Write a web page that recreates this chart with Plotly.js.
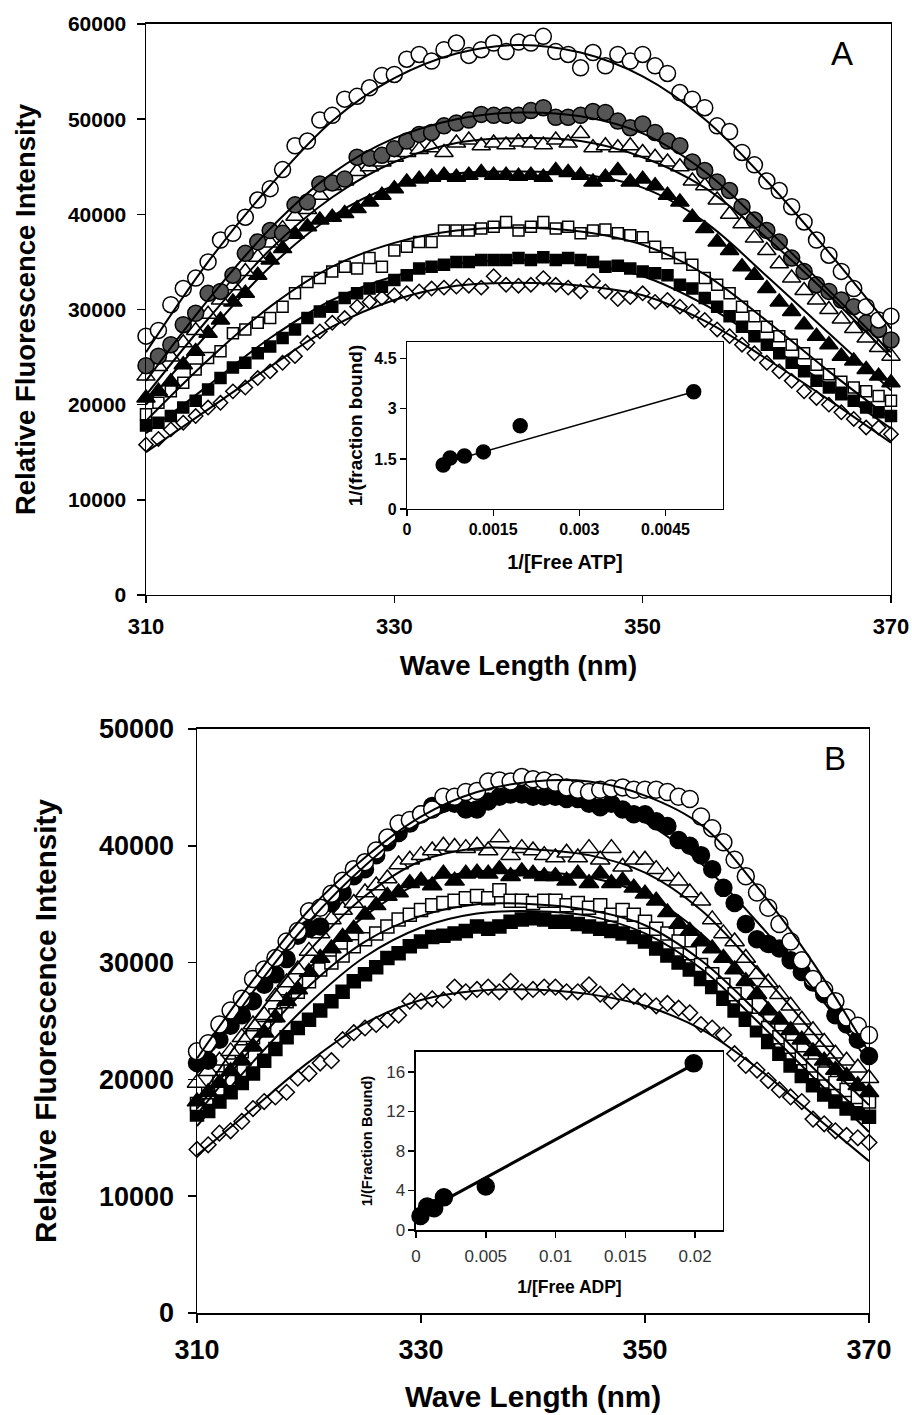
<!DOCTYPE html>
<html>
<head>
<meta charset="utf-8">
<script src="https://cdn.plot.ly/plotly-3.0.1.min.js"></script>
<style>html,body{margin:0;padding:0;background:#fff;}#chart{width:912px;height:1415px;}</style>
</head>
<body>
<div id="chart"></div>
<script>
// ---------- DATA ----------
const wl = [310,311,312,313,314,315,316,317,318,319,320,321,322,323,324,325,326,327,328,329,330,331,332,333,334,335,336,337,338,339,340,341,342,343,344,345,346,347,348,349,350,351,352,353,354,355,356,357,358,359,360,361,362,363,364,365,366,367,368,369,370];
const fitWl = [310,315,320,325,330,335,340,345,350,355,360,365,370];

// Panel A (ATP)
const aOpenCircle = [27200,27800,30500,32200,33300,35000,37300,38000,39700,41500,42700,44700,47200,47700,49900,50400,52100,52400,53300,54600,54700,56300,56800,56100,57300,58000,56700,57300,58000,57100,58100,58000,58700,57100,56800,55400,57000,55600,56800,56100,56800,55600,54800,52800,52100,51200,49300,48700,46500,45200,43500,42500,40800,39200,37300,35700,34000,32200,30300,28900,29300];
const aGrayCircle = [24100,25100,26300,28400,29600,31700,31900,33600,35900,37100,38300,38000,41000,41300,43200,43300,43700,46000,45900,46200,46900,47700,48400,48600,49300,49600,49900,50500,50400,50400,50400,50900,51200,50200,50200,50400,50800,50700,49800,49100,49500,48600,47700,47200,45500,44600,43400,42500,40800,39400,38300,37100,35400,34000,32600,31900,31000,30300,28600,27900,26800];
const aOpenTri = [23000,24000,25000,26500,27800,29500,31000,32500,34000,35500,37000,38500,39800,40500,42000,43000,43500,44500,45000,45500,46000,46500,46800,47000,46500,47500,47800,47200,47500,47300,47600,47500,47300,47800,47500,48500,47000,47200,47000,47200,46500,46000,45500,45000,43500,43000,41500,40000,39000,37500,36200,34800,33300,32000,31000,30000,29000,28000,27000,26000,25100];
const aFillTri = [20700,21400,22400,24200,25600,27500,28900,30800,31700,33600,35200,36400,37900,38700,39400,39700,40100,40600,41300,42000,42700,43400,43700,43900,44100,43900,44100,44400,44100,44100,44000,44100,43900,44600,44400,44100,43400,43900,44600,43400,43700,43000,42000,41300,39700,38500,37100,36200,34500,33600,32200,30800,29800,28400,27200,26300,25100,24600,23700,23000,22300];
const aOpenSq = [19000,20200,21400,22300,23700,24900,25600,27500,27900,28600,29100,30300,31700,32900,33300,34000,34500,34300,35400,34500,36200,36600,37100,37100,38300,38300,38300,38500,38700,39200,38300,38700,39200,38500,38700,38000,38300,38400,38000,37800,37600,36600,35900,35400,34700,33300,32600,31700,30300,29300,28200,27200,26300,25400,24200,23200,22400,21800,21400,20900,20400];
const aFillSq = [17800,18100,18800,19700,20400,21600,22800,23900,24400,25400,26100,27000,27900,29100,29800,30300,31200,31700,32200,32400,33100,33600,34300,34500,34700,35000,35000,35200,35200,35200,35400,35200,35500,35200,35400,35200,35000,34500,34600,34300,34000,33800,33600,32600,32200,31200,30300,29300,28200,27200,26300,25400,24400,23500,22500,21800,21100,20400,19700,19200,18800];
const aOpenDia = [15800,16400,17400,18100,18800,19700,20200,21400,21800,22800,23500,24400,25100,26500,27700,28600,29100,30300,30800,31200,31500,31700,31900,32200,32300,32400,32500,32300,33500,32600,32500,32600,33300,32600,32300,31900,33000,31900,31100,31300,31700,30800,31000,30300,29800,28900,27900,27200,26300,25400,24400,23500,22500,21400,20700,20000,19200,18500,17600,17600,16900];

const aFitOpenCircle = [25500,35000,43000,49800,54300,56900,57800,57000,54500,50000,43500,36000,28000];
const aFitGrayCircle = [22500,31000,38500,44300,48000,50000,50700,50300,48500,44500,38500,32000,25500];
const aFitOpenTri    = [21000,29000,36300,41800,45500,47500,48000,47700,46000,42800,37500,31500,25000];
const aFitFillTri    = [20000,27500,34500,39800,43000,44300,44500,44200,42800,39200,33500,27500,21500];
const aFitOpenSq     = [18300,24700,30300,34500,37000,38300,38600,38200,36800,33700,28800,23500,18500];
const aFitFillSq     = [17000,22000,27000,31000,33500,34800,35200,34800,33500,30500,26300,22000,17500];
const aFitOpenDia    = [15000,19500,24000,28200,31000,32500,32800,32500,31500,28800,24800,20500,16000];

// Panel B (ADP)
const bOpenCircle = [22400,23100,24700,25900,26900,28600,29400,30400,31800,32700,34400,34700,35900,37000,38000,38600,39600,40700,41900,42200,42700,43100,44200,44200,44600,44700,45500,45600,45500,45900,45700,45600,45400,45000,44800,44600,44800,44900,45000,44800,44800,44800,44600,44200,44000,42500,41500,40300,38800,37400,36000,34700,33300,31800,30200,28600,27700,26700,25300,24600,23800];
const bFillCircle = [21400,21600,23400,24600,25500,26700,28100,29000,30300,32300,32900,33100,35100,36000,37400,38000,39200,40300,41100,41900,42700,43400,43600,43600,43100,43100,43800,44200,44400,44400,44200,44200,44200,44000,44000,43600,43300,43600,43100,42700,42700,42100,41700,40500,40000,39200,38000,36400,35100,33300,32000,31600,31200,30200,29200,28300,27300,25500,24700,23400,22000];
const bOpenTri = [19700,20700,21600,22400,23600,24700,25500,27100,28300,29400,31000,32500,33700,34500,35100,36000,36600,37200,38400,38800,39200,39600,40000,39900,39800,40000,39600,40700,39200,39800,39600,39200,39000,39400,39000,39800,38800,39800,38200,38800,38800,38000,37400,37000,36000,35300,33700,32500,31800,30400,29000,28300,27300,26300,25100,24200,23200,22200,21600,21000,20100];
const bFillTri = [18100,18900,19700,20700,21600,22800,24000,25300,26700,27700,29200,30400,31200,32200,32900,34100,34900,35700,36000,36800,37000,36600,37600,37000,37600,37700,37600,38000,37400,37800,37600,37400,37400,37000,37600,36800,37600,36800,37000,36400,35900,35300,34300,33300,32700,31800,31200,30400,29400,28400,27300,25900,25100,24200,23400,22400,21600,20800,20300,19500,18900];
const bOpenSq = [17900,18900,20100,21200,22400,23600,24400,25500,26700,27500,28400,29400,30000,30600,31400,32000,32500,33100,33700,34100,34500,34900,35100,35300,35500,35700,35500,36200,35300,35300,35100,35300,35300,34900,35100,34700,34900,34100,34500,34100,33500,32900,32500,31800,30800,29800,29000,28100,27300,26300,25100,24400,23600,22800,21800,21200,20500,19700,19100,18500,18100];
const bFillSq = [17000,17300,18100,18900,19700,20500,21600,22600,23600,24400,25100,25900,26700,27500,28400,29000,29600,30400,30800,31400,31800,32200,32300,32500,32700,33100,32900,33100,33500,33700,33800,33700,33500,33500,33300,33100,32900,32700,32500,32200,31800,31200,30600,30000,29400,28600,27900,26900,25900,25100,24200,23200,22200,21200,20300,19500,18700,18100,17500,17100,16800];
const bOpenDia = [14000,14400,15400,15600,16400,17500,18100,18500,18900,20100,20500,21400,21600,23400,24000,24400,24700,25100,25500,26700,26700,26900,26800,27900,27500,27700,27900,27500,28400,27500,27700,27900,27900,27500,27500,28100,27300,26700,27500,27100,26700,26300,26500,26100,25700,24700,24400,23800,22200,21200,20800,19900,19100,18500,18100,16600,16200,15600,15200,15000,14600];

const bFitOpenCircle = [21800,28500,34500,39000,42500,44600,45500,45500,44300,41800,36500,30000,22300];
const bFitFillCircle = [20500,27500,33500,38300,42000,43800,44400,43800,42000,38500,33500,27800,21500];
const bFitOpenTri    = [18000,25000,31000,35700,38700,39800,39700,39200,37700,34500,29500,24000,18500];
const bFitFillTri    = [17500,23500,29500,34000,36800,37800,37800,37300,35800,32500,27500,22500,17800];
const bFitOpenSq     = [17000,22800,28000,31800,34000,35000,35000,34500,33200,30200,25800,21000,16500];
const bFitFillSq     = [16000,21500,26500,30500,33000,34200,34400,34000,32500,29500,25000,20200,15500];
const bFitOpenDia    = [13500,17500,21500,24800,26800,27600,27700,27300,26300,24300,21000,17000,13000];

// Inset A: double reciprocal, ATP
const atpInvFree  = [0.00063,0.00075,0.00100,0.00133,0.00197,0.00499];
const atpInvBound = [1.32,1.53,1.59,1.71,2.49,3.51];
const atpFitX = [0.00063,0.00499];
const atpFitY = [1.37,3.51];

// Inset B: double reciprocal, ADP
const adpInvFree  = [0.00032,0.0008,0.0013,0.0020,0.0050,0.0199];
const adpInvBound = [1.42,2.37,2.2,3.3,4.4,16.85];
const adpFitX = [0.0002,0.0199];
const adpFitY = [1.6,16.75];

// ---------- STYLES ----------
const FONT = 'Liberation Sans, Arial, sans-serif';
function pts(x, y, xa, ya, symbol, size, fill) {
  return {x: x, y: y, xaxis: xa, yaxis: ya, type: 'scatter', mode: 'markers', cliponaxis: false,
    showlegend: false, hoverinfo: 'skip',
    marker: {symbol: symbol, size: size, color: fill, line: {color: '#000', width: 1.5}}};
}
function fit(x, y, xa, ya, w, shape) {
  return {x: x, y: y, xaxis: xa, yaxis: ya, type: 'scatter', mode: 'lines', cliponaxis: false,
    showlegend: false, hoverinfo: 'skip',
    line: {color: '#000', width: w, shape: shape || 'spline', smoothing: 1.0}};
}

const traces = [
  pts(wl, aOpenDia, 'x', 'y', 'diamond', 11, '#fff'),
  pts(wl, aFillSq, 'x', 'y', 'square', 11, '#000'),
  pts(wl, aOpenSq, 'x', 'y', 'square', 11, '#fff'),
  pts(wl, aFillTri, 'x', 'y', 'triangle-up', 16, '#000'),
  pts(wl, aOpenTri, 'x', 'y', 'triangle-up', 16, '#fff'),
  pts(wl, aGrayCircle, 'x', 'y', 'circle', 16, '#555'),
  pts(wl, aOpenCircle, 'x', 'y', 'circle', 16, '#fff'),
  fit(fitWl, aFitOpenCircle, 'x', 'y', 2),
  fit(fitWl, aFitGrayCircle, 'x', 'y', 2),
  fit(fitWl, aFitOpenTri, 'x', 'y', 2),
  fit(fitWl, aFitFillTri, 'x', 'y', 2),
  fit(fitWl, aFitOpenSq, 'x', 'y', 2),
  fit(fitWl, aFitFillSq, 'x', 'y', 2),
  fit(fitWl, aFitOpenDia, 'x', 'y', 2),

  pts(atpInvFree, atpInvBound, 'x2', 'y2', 'circle', 14, '#000'),
  fit(atpFitX, atpFitY, 'x2', 'y2', 1.5, 'linear'),

  pts(wl, bOpenDia, 'x3', 'y3', 'diamond', 12, '#fff'),
  pts(wl, bFillSq, 'x3', 'y3', 'square', 13, '#000'),
  pts(wl, bOpenSq, 'x3', 'y3', 'square', 13, '#fff'),
  pts(wl, bFillTri, 'x3', 'y3', 'triangle-up', 17, '#000'),
  pts(wl, bOpenTri, 'x3', 'y3', 'triangle-up', 17, '#fff'),
  pts(wl, bFillCircle, 'x3', 'y3', 'circle', 17, '#000'),
  pts(wl, bOpenCircle, 'x3', 'y3', 'circle', 17, '#fff'),
  fit(fitWl, bFitOpenCircle, 'x3', 'y3', 2),
  fit(fitWl, bFitFillCircle, 'x3', 'y3', 2),
  fit(fitWl, bFitOpenTri, 'x3', 'y3', 2),
  fit(fitWl, bFitFillTri, 'x3', 'y3', 2),
  fit(fitWl, bFitOpenSq, 'x3', 'y3', 2),
  fit(fitWl, bFitFillSq, 'x3', 'y3', 2),
  fit(fitWl, bFitOpenDia, 'x3', 'y3', 2),

  pts(adpInvFree, adpInvBound, 'x4', 'y4', 'circle', 17, '#000'),
  fit(adpFitX, adpFitY, 'x4', 'y4', 3, 'linear')
];

function axis(o) {
  return Object.assign({showline: true, linecolor: '#000', linewidth: 1.5, mirror: true,
    showgrid: false, zeroline: false, ticks: 'outside', tickcolor: '#000', tickwidth: 1.5,
    fixedrange: true}, o);
}
const bold = (s, c) => ({family: FONT, size: s, weight: 'bold', color: c || '#000'});
const reg = (s, c) => ({family: FONT, size: s, color: c || '#000'});

const layout = {
  width: 912, height: 1415,
  margin: {l: 0, r: 0, t: 0, b: 0},
  paper_bgcolor: '#fff', plot_bgcolor: '#fff',
  showlegend: false,
  font: {family: FONT, color: '#000'},
  xaxis: axis({domain: [0.16009, 0.97697], anchor: 'y', range: [310, 370], tickvals: [310, 330, 350, 370],
    ticklen: 7, ticklabelstandoff: 4, tickfont: bold(22), title: {text: 'Wave Length (nm)', font: bold(27.5), standoff: 18}}),
  yaxis: axis({domain: [0.57951, 0.98304], anchor: 'x', range: [0, 60000], tickvals: [0, 10000, 20000, 30000, 40000, 50000, 60000],
    tickformat: 'd', ticklen: 8, ticklabelstandoff: 6, tickfont: bold(21), title: {text: 'Relative Fluorescence Intensity', font: bold(27.5), standoff: 24}}),
  xaxis2: axis({domain: [0.44627, 0.79276], anchor: 'y2', range: [0, 0.0055], tickvals: [0, 0.0015, 0.003, 0.0045],
    ticktext: ['0', '0.0015', '0.003', '0.0045'], ticklen: 6, linewidth: 1.2, tickwidth: 1.2, tickfont: bold(16),
    title: {text: '1/[Free ATP]', font: bold(20), standoff: 17}}),
  yaxis2: axis({domain: [0.64028, 0.75830], anchor: 'x2', range: [0, 5], tickvals: [0, 1.5, 3, 4.5],
    ticktext: ['0', '1.5', '3', '4.5'], ticklen: 6, linewidth: 1.2, tickwidth: 1.2, tickfont: bold(16),
    title: {text: '1/(fraction bound)', font: bold(19), standoff: 6}}),
  xaxis3: axis({domain: [0.21601, 0.95285], anchor: 'y3', range: [310, 370], tickvals: [310, 330, 350, 370],
    ticklen: 8, ticklabelstandoff: 4, tickfont: bold(27), title: {text: 'Wave Length (nm)', font: bold(29.7), standoff: 22}}),
  yaxis3: axis({domain: [0.07208, 0.48481], anchor: 'x3', range: [0, 50000], tickvals: [0, 10000, 20000, 30000, 40000, 50000],
    tickformat: 'd', ticklen: 8, ticklabelstandoff: 8, tickfont: bold(27), title: {text: 'Relative Fluorescence Intensity', font: bold(29.7), standoff: 33}}),
  xaxis4: axis({domain: [0.45614, 0.79276], anchor: 'y4', range: [0, 0.022], tickvals: [0, 0.005, 0.01, 0.015, 0.02],
    ticktext: ['0', '0.005', '0.01', '0.015', '0.02'], ticklen: 6, linewidth: 1.5, ticklabelstandoff: 4, tickfont: reg(17, '#333'),
    title: {text: '1/[Free ADP]', font: bold(17.5), standoff: 16}}),
  yaxis4: axis({domain: [0.13074, 0.25654], anchor: 'x4', range: [0, 18], tickvals: [0, 4, 8, 12, 16],
    ticklen: 6, linewidth: 1.5, tickfont: reg(17, '#333'),
    title: {text: '1/(Fraction Bound)', font: bold(14.7), standoff: 10}}),
  shapes: [
    {type: 'rect', xref: 'x2 domain', yref: 'y2 domain', x0: 0, x1: 1, y0: 0, y1: 1, layer: 'below',
      fillcolor: '#fff', line: {width: 0}},
    {type: 'rect', xref: 'x4 domain', yref: 'y4 domain', x0: 0, x1: 1, y0: 0, y1: 1, layer: 'below',
      fillcolor: '#fff', line: {width: 0}}
  ],
  annotations: [
    {text: 'A', xref: 'paper', yref: 'paper', x: 842 / 912, y: 1 - 54 / 1415, xanchor: 'center', yanchor: 'middle',
      showarrow: false, font: reg(33)},
    {text: 'B', xref: 'paper', yref: 'paper', x: 835 / 912, y: 1 - 758 / 1415, xanchor: 'center', yanchor: 'middle',
      showarrow: false, font: reg(33)}
  ]
};

Plotly.newPlot('chart', traces, layout, {displayModeBar: false, staticPlot: true});
</script>
</body>
</html>
